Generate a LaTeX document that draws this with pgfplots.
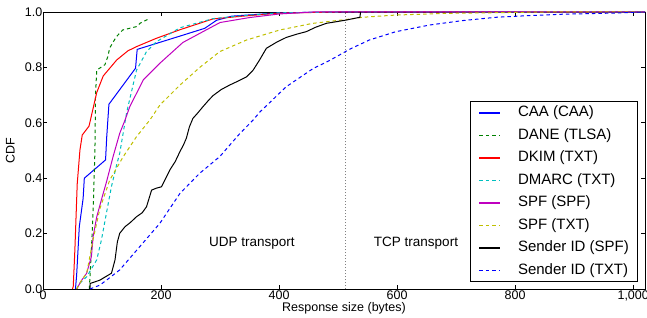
\documentclass[border=0pt]{standalone}
\usepackage{fontspec}
\setmainfont{Liberation Sans}
\usepackage{pgfplots}
\pgfplotsset{compat=1.18}
\definecolor{mplblue}{rgb}{0,0,1}
\definecolor{mplgreen}{rgb}{0,0.5,0}
\definecolor{mplred}{rgb}{1,0,0}
\definecolor{mplcyan}{rgb}{0,0.75,0.75}
\definecolor{mplmag}{rgb}{0.75,0,0.75}
\definecolor{mplolive}{rgb}{0.75,0.75,0}
\begin{document}
\begin{tikzpicture}
\begin{axis}[
  scale only axis, width=602bp, height=277bp,
  xmin=0, xmax=1020, ymin=0, ymax=1,
  xtick={0,200,400,600,800,1000},
  ytick={0,0.2,0.4,0.6,0.8,1},
  yticklabel style={/pgf/number format/fixed, /pgf/number format/fixed zerofill, /pgf/number format/precision=1, inner xsep=0.5bp},
  /pgf/number format/assume math mode=true,
  tick label style={font=\fontsize{12.5bp}{15bp}\selectfont},
  xticklabel style={inner ysep=1.5bp},
  major tick length=4bp,
  tick style={black, line width=0.6bp},
  tick align=inside,
  axis line style={line width=0.8bp},
  xlabel={Response size (bytes)}, ylabel={CDF},
  label style={font=\fontsize{12.5bp}{15bp}\selectfont},
  x label style={at={(axis description cs:0.5,-0.083)}, anchor=base},
  y label style={at={(axis description cs:-0.0473,0.5)}, anchor=base},
  every axis plot/.append style={line width=1bp},
  legend image code/.code={\draw[#1, line width=1.4bp] (0bp,0bp) -- (21bp,0bp);},
  legend cell align=left,
  legend style={at={(0.988,0.025)}, anchor=south east, fill=white, draw=black, line width=0.8bp,
    font=\fontsize{15bp}{18bp}\selectfont, inner xsep=8.5bp, inner ysep=4bp,
    row sep=8bp, column sep=17bp,
    nodes={inner sep=0pt, text height=11bp, text depth=3.5bp}},
]
% CAA (CAA)
\addplot[color=mplblue, solid] coordinates {
(55,0)(57,0.05)(61.5,0.225)(68,0.327)(70,0.4)(106,0.466)(108,0.55)(111.7,0.667)
(156.8,0.797)(159.6,0.865)(232,0.913)(274,0.941)(294,0.97)(320,0.985)(400,0.997)(500,1)(1020,1)};
\addlegendentry{CAA (CAA)}
% DANE (TLSA)
\addplot[color=mplgreen, dash pattern=on 3.5bp off 3bp] coordinates {
(78.5,0)(82,0.14)(85,0.285)(88,0.5)(89,0.7)(91,0.79)(105,0.81)(110,0.84)(113,0.87)
(124,0.91)(135,0.935)(158,0.947)(165,0.96)(181,0.977)};
\addlegendentry{DANE (TLSA)}
% DKIM (TXT)
\addplot[color=mplred, solid] coordinates {
(50,0)(51.3,0.01)(54,0.141)(58,0.38)(62.6,0.502)(66.5,0.556)(78,0.588)(91,0.709)(102,0.769)
(125,0.827)(144,0.86)(158.5,0.875)(192,0.905)(232,0.936)(288,0.975)(333,0.984)(400,0.996)(500,1)(1020,1)};
\addlegendentry{DKIM (TXT)}
% DMARC (TXT)
\addplot[color=mplcyan, dash pattern=on 3.5bp off 3bp] coordinates {
(57,0)(62,0.02)(74,0.044)(91,0.105)(99,0.177)(108,0.28)(116,0.37)(125,0.45)(130,0.49)
(142,0.64)(158.5,0.79)(175.4,0.857)(192.4,0.893)(232,0.943)(288,0.976)(333,0.986)(400,0.997)(500,1)(1020,1)};
\addlegendentry{DMARC (TXT)}
% SPF (SPF)
\addplot[color=mplmag, solid] coordinates {
(57,0)(65,0.03)(74,0.057)(82,0.117)(85,0.19)(91,0.26)(100,0.33)(108,0.39)(119,0.48)
(130,0.562)(139,0.61)(147,0.658)(170,0.755)(198,0.815)(237,0.89)(271,0.929)(300,0.962)
(350,0.98)(401,0.993)(457,1)(1020,1)};
\addlegendentry{SPF (SPF)}
% SPF (TXT)
\addplot[color=mplolive, dash pattern=on 3.5bp off 3bp] coordinates {
(57,0)(65,0.03)(74,0.057)(85,0.18)(96.4,0.29)(113,0.393)(136,0.478)(158.5,0.55)(181,0.61)
(198,0.664)(232,0.736)(265.6,0.80)(299.5,0.857)(345,0.899)(401,0.935)(457,0.959)(514,0.973)
(542,0.981)(598,0.989)(683,0.995)(850,1)(1020,1)};
\addlegendentry{SPF (TXT)}
% Sender ID (SPF)
\addplot[color=black, solid] coordinates {
(79.5,0)(80,0.02)(96.4,0.032)(116,0.057)(122,0.105)(126,0.17)(130,0.201)(139,0.225)(148,0.24)
(158.5,0.261)(168,0.275)(175.4,0.297)(184,0.357)(192,0.364)(200.8,0.369)(208,0.40)(215,0.43)
(224,0.46)(232,0.496)(238,0.52)(243,0.545)(248,0.585)(254,0.616)(262,0.635)(271,0.658)
(280,0.68)(288,0.698)(302,0.72)(316,0.736)(330,0.75)(345,0.766)(356,0.79)(367,0.827)
(378.5,0.869)(395,0.89)(412,0.908)(430,0.92)(446,0.929)(462,0.945)(480,0.959)(514,0.971)
(537,0.981)(538,1)};
\addlegendentry{Sender ID (SPF)}
% Sender ID (TXT)
\addplot[color=mplblue, dash pattern=on 3.5bp off 3bp] coordinates {
(79.5,0)(96.4,0.014)(107.7,0.032)(130,0.069)(164,0.153)(198,0.237)(232,0.345)(265.6,0.418)
(299.5,0.478)(333,0.56)(356,0.61)(367,0.638)(412,0.73)(457,0.795)(485.6,0.825)(502.5,0.845)
(519,0.865)(553,0.899)(598,0.929)(655,0.953)(711,0.969)(768,0.981)(824,0.987)(880,0.992)
(964,0.996)(1020,1)};
\addlegendentry{Sender ID (TXT)}
% UDP/TCP boundary
\addplot[gray, dotted, line width=0.8bp, forget plot] coordinates {(512,0)(512,1)};
\node[anchor=base, font=\fontsize{13.5bp}{16bp}\selectfont] at (axis cs:354,0.153) {UDP transport};
\node[anchor=base, font=\fontsize{13.5bp}{16bp}\selectfont] at (axis cs:632,0.153) {TCP transport};
\end{axis}
\pgfresetboundingbox
\path[use as bounding box] ([xshift=-43bp,yshift=-29bp]current axis.south west) rectangle ([xshift=2bp,yshift=12bp]current axis.north east);
\end{tikzpicture}
\end{document}
